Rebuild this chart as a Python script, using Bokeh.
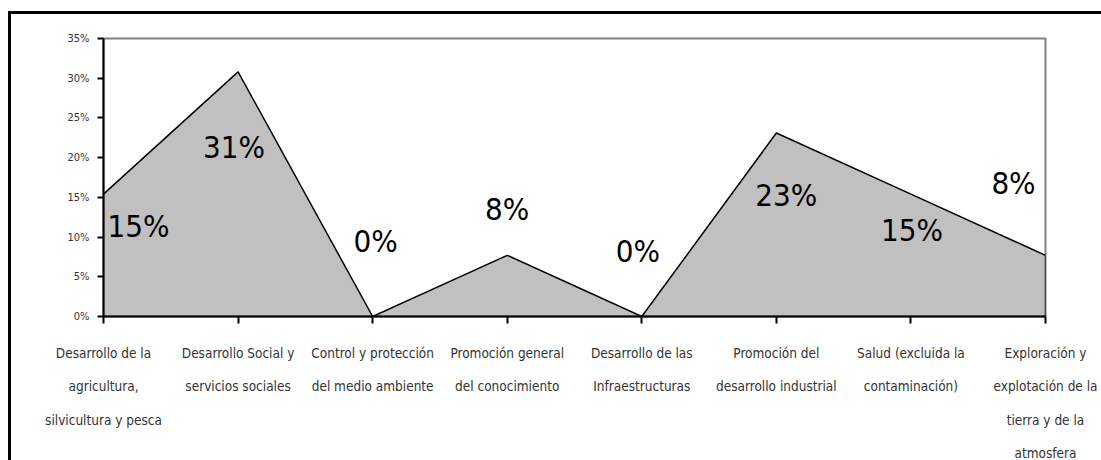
from bokeh.plotting import figure
from bokeh.models import FixedTicker, ColumnDataSource
from bokeh.core.properties import value
from bokeh.embed import file_html
from bokeh.resources import INLINE

categories = [
    "Desarrollo de la\nagricultura,\nsilvicultura y pesca",
    "Desarrollo Social y\nservicios sociales",
    "Control y protección\ndel medio ambiente",
    "Promoción general\ndel conocimiento",
    "Desarrollo de las\nInfraestructuras",
    "Promoción del\ndesarrollo industrial",
    "Salud (excluida la\ncontaminación)",
    "Exploración y\nexplotación de la\ntierra y de la\natmosfera",
]
values = [15.4, 30.8, 0.0, 7.7, 0.0, 23.1, 15.4, 7.7]
value_labels = ["15%", "31%", "0%", "8%", "0%", "23%", "15%", "8%"]
y_ticks = [0, 5, 10, 15, 20, 25, 30, 35]
y_tick_labels = ["0%", "5%", "10%", "15%", "20%", "25%", "30%", "35%"]

# label placement (screen pixel offsets, style only)
label_dx = [35, -4, 3, 0, -4, 10, 1, -32]
label_dy = [32, 75, -76, -46, -66, 62, 36, -72]

FONT = "DejaVu Sans Condensed"

xs = list(range(len(values)))

p = figure(frame_width=942, frame_height=278, x_range=(0, len(values) - 1), y_range=(0, 35),
           output_backend="svg", toolbar_location=None,
           min_border_left=92, min_border_right=56, min_border_top=24, min_border_bottom=120)
p.styles = {"border-top": "3px solid #000", "border-left": "3px solid #000",
            "margin-top": "11px", "margin-left": "8px"}

p.patch(xs + [xs[-1], xs[0]], values + [0, 0], fill_color="#C0C0C0", line_color="black", line_width=1.5)

src = ColumnDataSource(dict(x=xs, y=values, t=value_labels, dx=label_dx, dy=label_dy))
p.text(x="x", y="y", text="t", x_offset="dx", y_offset="dy", source=src,
       text_align="center", text_baseline="middle", text_font=value(FONT),
       text_font_size="31px", text_color="#000000")

p.xgrid.visible = False
p.ygrid.visible = False
p.outline_line_color = "#808080"
p.outline_line_width = 2
p.background_fill_color = "white"
p.border_fill_color = "white"

xa = p.xaxis[0]
xa.ticker = FixedTicker(ticks=xs)
xa.major_label_overrides = {i: c for i, c in enumerate(categories)}
xa.axis_line_width = 2
xa.major_tick_line_width = 2
xa.major_tick_out = 7
xa.major_tick_in = 0
xa.minor_tick_line_color = None
xa.major_label_text_font = FONT
xa.major_label_text_font_size = "13.5px"
xa.major_label_text_color = "#333333"
xa.major_label_text_line_height = 2.1
xa.major_label_standoff = 21

ya = p.yaxis[0]
ya.ticker = FixedTicker(ticks=y_ticks)
ya.major_label_overrides = {t: l for t, l in zip(y_ticks, y_tick_labels)}
ya.axis_line_width = 2
ya.major_tick_line_width = 2
ya.major_tick_out = 6
ya.major_tick_in = 0
ya.minor_tick_line_color = None
ya.major_label_text_font = FONT
ya.major_label_text_font_size = "11px"
ya.major_label_text_color = "#333333"
ya.major_label_standoff = 8

open("out.html", "w").write(file_html(p, INLINE))
